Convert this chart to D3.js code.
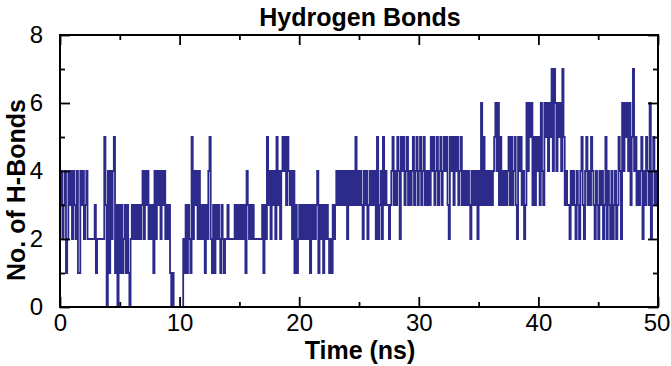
<!DOCTYPE html>
<html><head><meta charset="utf-8">
<script src="https://cdn.jsdelivr.net/npm/d3@7"></script>
<style>body{margin:0;background:#fff}svg{display:block}</style>
</head><body><svg id="c" width="671" height="366"></svg>
<script>
// Number of hydrogen bonds, one value per 0.1 ns
const hb00_10 = [3,4,2,3,4,1,2,4,3,4, 2,4,3,2,4,1,1,4,3,4, 2,3,4,2,2,2,2,2,2,3, 1,2,2,2,2,2,2,5,3,0,
  4,1,4,2,4,5,1,3,0,3, 1,3,1,2,3,1,3,1,0,2, 3,2,3,2,3,2,3,2,3,4, 2,4,3,4,2,3,2,3,1,4,
  2,4,3,4,2,4,3,4,2,3, 2,3,1,0,1,0,0,0,0,0];
const hb10_20 = [0,0,0,2,1,3,1,3,2,1, 5,2,4,3,4,2,4,2,3,2, 3,1,3,2,4,5,2,1,3,1, 3,2,3,2,1,3,2,1,2,2,
  3,2,2,2,2,2,3,2,3,2, 3,2,3,2,3,1,4,3,2,3, 2,3,2,2,2,2,2,2,2,3, 1,3,2,5,3,4,2,4,3,4,
  2,5,3,4,2,4,5,4,5,3, 5,4,3,4,2,4,1,3,1,2];
const hb20_30 = [3,2,3,2,3,2,3,2,3,1, 3,2,3,2,3,4,1,3,2,3, 1,3,2,3,2,1,2,1,3,2, 3,4,3,4,3,4,3,4,3,4,
  2,4,3,4,3,4,3,5,3,4, 3,4,3,2,4,3,4,2,3,4, 3,4,3,4,2,5,2,3,4,2, 5,3,4,3,3,2,3,4,5,3,
  4,3,5,4,2,5,4,5,3,4, 5,3,4,3,4,5,3,4,5,3];
const hb30_40 = [4,5,3,4,5,3,4,3,4,3, 5,4,5,3,4,5,3,4,5,3, 4,5,4,5,3,2,5,4,5,3, 5,4,5,3,4,5,3,4,3,4,
  3,4,3,2,4,3,4,3,4,2, 4,3,6,3,5,3,4,3,4,3, 4,3,4,5,6,4,6,3,5,3, 4,3,4,3,4,5,3,5,3,4,
  5,3,2,5,4,5,3,4,2,3, 6,4,6,5,6,3,5,3,5,4];
const hb40_50 = [5,3,6,4,3,6,5,6,4,6, 5,7,4,7,6,4,6,5,6,4, 7,5,3,4,3,3,2,4,3,4, 3,2,4,3,2,4,5,3,2,4,
  5,3,4,3,5,4,3,2,4,3, 2,4,3,4,2,3,5,2,4,3, 2,4,2,3,4,2,3,5,4,2, 6,4,6,5,6,4,6,3,5,7,
  4,5,3,4,3,4,5,2,4,3, 5,4,3,6,2,4,5,3,4,3];
const timeStep = 0.1; // ns per frame
const xTicksMajor = [0, 10, 20, 30, 40, 50];
const xTicksMinor = [5, 15, 25, 35, 45];
const yTicksMajor = [0, 2, 4, 6, 8];
const yTicksMinor = [1, 3, 5, 7];
const titleText = "Hydrogen Bonds";
const xLabelText = "Time (ns)";
const yLabelText = "No. of H-Bonds";

const values = [].concat(hb00_10, hb10_20, hb20_30, hb30_40, hb40_50);
const data = values.map((v, i) => ({t: i * timeStep, v}));
data.push({t: values.length * timeStep, v: values[values.length - 1]});

const svg = d3.select('#c');
const L = 60, R = 658, T = 35, B = 307;
const FONT = "'Liberation Sans', Arial, Helvetica, sans-serif";
const x = d3.scaleLinear().domain([0, 50]).range([L, R]);
const y = d3.scaleLinear().domain([0, 8]).range([B, T]);

svg.append('path').datum(data)
  .attr('fill', 'none').attr('stroke', '#2c2a8b').attr('stroke-width', 1.8)
  .attr('d', d3.line().x(d => x(d.t)).y(d => y(d.v)).curve(d3.curveStepAfter));

function styleAxis(g, labels) {
  g.select('.domain').remove();
  g.selectAll('.tick line').attr('stroke', '#000').attr('stroke-width', 1.8);
  g.selectAll('.tick text').attr('fill', '#000').attr('font-family', FONT).attr('font-size', 24);
  if (!labels) g.selectAll('.tick text').remove();
}
const MAJ = 10, MIN = 5;
svg.append('g').attr('transform', `translate(0,${B})`)
  .call(d3.axisBottom(x).tickValues(xTicksMajor).tickSize(-MAJ).tickPadding(7).tickFormat(d3.format('d')))
  .call(g => styleAxis(g, true))
  .call(g => g.selectAll('.tick text').filter(d => d === 50).attr('dx', -1.5));
svg.append('g').attr('transform', `translate(0,${B})`)
  .call(d3.axisBottom(x).tickValues(xTicksMinor).tickSize(-MIN)).call(g => styleAxis(g, false));
svg.append('g').attr('transform', `translate(0,${T})`)
  .call(d3.axisTop(x).tickValues(xTicksMajor).tickSize(-MAJ)).call(g => styleAxis(g, false));
svg.append('g').attr('transform', `translate(0,${T})`)
  .call(d3.axisTop(x).tickValues(xTicksMinor).tickSize(-MIN)).call(g => styleAxis(g, false));
svg.append('g').attr('transform', `translate(${L},0)`)
  .call(d3.axisLeft(y).tickValues(yTicksMajor).tickSize(-MAJ).tickPadding(17).tickFormat(d3.format('d')))
  .call(g => styleAxis(g, true));
svg.append('g').attr('transform', `translate(${L},0)`)
  .call(d3.axisLeft(y).tickValues(yTicksMinor).tickSize(-MIN)).call(g => styleAxis(g, false));
svg.append('g').attr('transform', `translate(${R},0)`)
  .call(d3.axisRight(y).tickValues(yTicksMajor).tickSize(-MAJ)).call(g => styleAxis(g, false));
svg.append('g').attr('transform', `translate(${R},0)`)
  .call(d3.axisRight(y).tickValues(yTicksMinor).tickSize(-MIN)).call(g => styleAxis(g, false));

svg.append('rect').attr('x', L).attr('y', T).attr('width', R - L).attr('height', B - T)
  .attr('fill', 'none').attr('stroke', '#000').attr('stroke-width', 2);

svg.append('text').attr('x', (L + R) / 2 + 1).attr('y', 26).attr('text-anchor', 'middle')
  .attr('font-family', FONT).attr('font-weight', 'bold').attr('font-size', 25).text(titleText);
svg.append('text').attr('x', (L + R) / 2 + 1).attr('y', 359).attr('text-anchor', 'middle')
  .attr('font-family', FONT).attr('font-weight', 'bold').attr('font-size', 25).text(xLabelText);
svg.append('text').attr('transform', 'translate(25,190) rotate(-90)').attr('text-anchor', 'middle')
  .attr('font-family', FONT).attr('font-weight', 'bold').attr('font-size', 25).text(yLabelText);
</script></body></html>
